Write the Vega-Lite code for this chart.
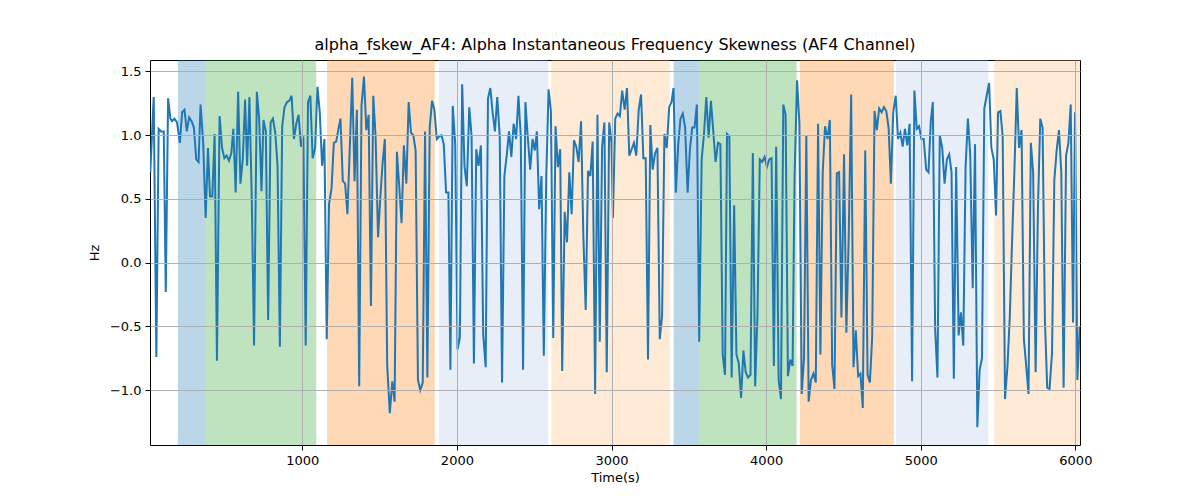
{
  "$schema": "https://vega.github.io/schema/vega-lite/v6.json",
  "autosize": "none",
  "width": 930,
  "height": 385,
  "padding": {"left": 150, "top": 60, "right": 120, "bottom": 55},
  "background": "white",
  "config": {"font": "DejaVu Sans", "view": {"stroke": "black", "strokeWidth": 1}},
  "title": {"text": "alpha_fskew_AF4: Alpha Instantaneous Frequency Skewness (AF4 Channel)", "fontSize": 16, "fontWeight": "normal", "color": "black", "offset": 7},
  "datasets": {
    "bands": [
      {"start": 195, "end": 370, "kind": "b1"},
      {"start": 370, "end": 1090, "kind": "g"},
      {"start": 1160, "end": 1857, "kind": "o"},
      {"start": 1883, "end": 2590, "kind": "lb"},
      {"start": 2610, "end": 3377, "kind": "lo"},
      {"start": 3402, "end": 3565, "kind": "b1"},
      {"start": 3565, "end": 4197, "kind": "g"},
      {"start": 4218, "end": 4826, "kind": "o"},
      {"start": 4840, "end": 5437, "kind": "lb"},
      {"start": 5475, "end": 6052, "kind": "lo"}
    ],
    "series": [
      {"t":17,"v":0.71},{"t":39,"v":1.30},{"t":56,"v":-0.74},{"t":71,"v":1.05},{"t":87,"v":1.03},{"t":104,"v":1.03},{"t":117,"v":-0.23},{"t":132,"v":1.29},{"t":147,"v":1.13},{"t":158,"v":1.11},{"t":173,"v":1.13},{"t":190,"v":1.10},{"t":208,"v":0.94},{"t":223,"v":1.18},{"t":238,"v":1.20},{"t":253,"v":1.03},{"t":268,"v":1.14},{"t":284,"v":1.11},{"t":299,"v":1.06},{"t":314,"v":0.81},{"t":329,"v":0.79},{"t":342,"v":1.24},{"t":359,"v":0.94},{"t":375,"v":0.35},{"t":390,"v":0.90},{"t":403,"v":0.52},{"t":418,"v":0.52},{"t":433,"v":1.01},{"t":448,"v":-0.77},{"t":465,"v":1.15},{"t":481,"v":0.90},{"t":496,"v":0.82},{"t":511,"v":0.84},{"t":526,"v":0.80},{"t":541,"v":0.86},{"t":554,"v":1.05},{"t":569,"v":0.55},{"t":585,"v":1.34},{"t":600,"v":0.62},{"t":615,"v":0.81},{"t":630,"v":1.28},{"t":643,"v":0.76},{"t":658,"v":1.30},{"t":673,"v":0.52},{"t":688,"v":-0.65},{"t":706,"v":1.34},{"t":721,"v":1.13},{"t":736,"v":0.56},{"t":749,"v":1.12},{"t":764,"v":1.03},{"t":779,"v":-0.45},{"t":795,"v":1.10},{"t":810,"v":1.13},{"t":825,"v":1.02},{"t":840,"v":0.76},{"t":855,"v":-0.66},{"t":870,"v":1.07},{"t":885,"v":1.22},{"t":901,"v":1.26},{"t":916,"v":1.27},{"t":931,"v":1.31},{"t":946,"v":0.97},{"t":961,"v":1.09},{"t":976,"v":1.16},{"t":992,"v":0.91},{"t":1007,"v":0.99},{"t":1022,"v":-0.65},{"t":1037,"v":1.26},{"t":1052,"v":1.31},{"t":1067,"v":0.82},{"t":1083,"v":0.90},{"t":1098,"v":1.38},{"t":1113,"v":1.18},{"t":1128,"v":0.76},{"t":1143,"v":0.97},{"t":1158,"v":-0.60},{"t":1173,"v":0.46},{"t":1189,"v":0.58},{"t":1204,"v":0.94},{"t":1219,"v":0.95},{"t":1234,"v":1.05},{"t":1247,"v":1.13},{"t":1262,"v":0.64},{"t":1277,"v":0.62},{"t":1292,"v":0.38},{"t":1308,"v":0.93},{"t":1323,"v":1.45},{"t":1338,"v":0.64},{"t":1353,"v":1.20},{"t":1368,"v":-0.97},{"t":1383,"v":1.23},{"t":1399,"v":1.46},{"t":1414,"v":1.04},{"t":1429,"v":1.16},{"t":1444,"v":-0.34},{"t":1459,"v":1.31},{"t":1474,"v":0.99},{"t":1490,"v":0.20},{"t":1505,"v":0.52},{"t":1520,"v":0.79},{"t":1534,"v":0.97},{"t":1549,"v":-0.80},{"t":1566,"v":-1.18},{"t":1582,"v":-0.93},{"t":1597,"v":-1.09},{"t":1612,"v":0.87},{"t":1627,"v":0.60},{"t":1642,"v":0.31},{"t":1657,"v":0.92},{"t":1673,"v":0.62},{"t":1688,"v":1.26},{"t":1703,"v":1.02},{"t":1718,"v":1.00},{"t":1733,"v":0.88},{"t":1748,"v":-0.92},{"t":1763,"v":-1.00},{"t":1779,"v":-0.94},{"t":1794,"v":1.03},{"t":1809,"v":-0.90},{"t":1824,"v":1.06},{"t":1839,"v":1.27},{"t":1854,"v":1.20},{"t":1870,"v":0.97},{"t":1885,"v":0.99},{"t":1900,"v":1.00},{"t":1915,"v":0.93},{"t":1930,"v":0.55},{"t":1945,"v":0.55},{"t":1958,"v":-0.84},{"t":1973,"v":1.23},{"t":1989,"v":0.93},{"t":2004,"v":-0.68},{"t":2019,"v":-0.59},{"t":2034,"v":1.40},{"t":2049,"v":0.76},{"t":2064,"v":0.60},{"t":2080,"v":1.22},{"t":2095,"v":0.99},{"t":2110,"v":-0.79},{"t":2125,"v":0.89},{"t":2140,"v":0.76},{"t":2155,"v":0.92},{"t":2170,"v":-0.56},{"t":2186,"v":-0.82},{"t":2201,"v":1.29},{"t":2216,"v":1.37},{"t":2231,"v":1.18},{"t":2246,"v":1.03},{"t":2261,"v":1.30},{"t":2277,"v":0.99},{"t":2292,"v":-0.94},{"t":2307,"v":0.68},{"t":2322,"v":0.84},{"t":2337,"v":1.03},{"t":2352,"v":0.83},{"t":2367,"v":1.09},{"t":2383,"v":0.97},{"t":2398,"v":1.31},{"t":2413,"v":0.99},{"t":2428,"v":-0.84},{"t":2443,"v":1.26},{"t":2458,"v":0.99},{"t":2474,"v":0.73},{"t":2489,"v":0.97},{"t":2504,"v":0.88},{"t":2517,"v":1.03},{"t":2532,"v":0.42},{"t":2547,"v":0.68},{"t":2562,"v":-0.73},{"t":2578,"v":0.68},{"t":2593,"v":1.36},{"t":2608,"v":1.19},{"t":2623,"v":-0.59},{"t":2638,"v":1.07},{"t":2653,"v":0.75},{"t":2668,"v":0.89},{"t":2681,"v":-0.85},{"t":2697,"v":0.40},{"t":2712,"v":0.16},{"t":2727,"v":0.71},{"t":2742,"v":0.38},{"t":2757,"v":0.96},{"t":2772,"v":0.91},{"t":2787,"v":0.79},{"t":2803,"v":1.11},{"t":2818,"v":0.20},{"t":2833,"v":-0.37},{"t":2848,"v":0.72},{"t":2863,"v":0.68},{"t":2878,"v":0.95},{"t":2894,"v":-1.03},{"t":2909,"v":1.16},{"t":2924,"v":-0.62},{"t":2939,"v":0.91},{"t":2954,"v":1.10},{"t":2969,"v":-0.86},{"t":2985,"v":1.10},{"t":3000,"v":0.94},{"t":3009,"v":0.35},{"t":3024,"v":1.13},{"t":3039,"v":1.17},{"t":3054,"v":1.15},{"t":3069,"v":1.35},{"t":3085,"v":1.20},{"t":3100,"v":1.37},{"t":3115,"v":0.84},{"t":3130,"v":0.89},{"t":3145,"v":0.94},{"t":3160,"v":0.84},{"t":3176,"v":1.20},{"t":3191,"v":1.32},{"t":3206,"v":0.82},{"t":3221,"v":0.82},{"t":3236,"v":-0.76},{"t":3251,"v":1.08},{"t":3266,"v":0.73},{"t":3282,"v":0.86},{"t":3297,"v":0.90},{"t":3312,"v":-0.60},{"t":3327,"v":-0.42},{"t":3342,"v":1.01},{"t":3357,"v":0.90},{"t":3373,"v":1.22},{"t":3388,"v":1.26},{"t":3401,"v":1.37},{"t":3416,"v":0.55},{"t":3431,"v":0.92},{"t":3446,"v":1.13},{"t":3461,"v":1.17},{"t":3476,"v":1.06},{"t":3492,"v":0.55},{"t":3507,"v":0.89},{"t":3522,"v":1.06},{"t":3537,"v":1.06},{"t":3552,"v":1.24},{"t":3567,"v":-0.62},{"t":3583,"v":0.81},{"t":3598,"v":1.01},{"t":3613,"v":1.30},{"t":3628,"v":0.98},{"t":3643,"v":1.27},{"t":3658,"v":1.03},{"t":3673,"v":0.79},{"t":3689,"v":0.94},{"t":3704,"v":0.93},{"t":3719,"v":-0.72},{"t":3734,"v":-0.88},{"t":3747,"v":1.01},{"t":3762,"v":0.99},{"t":3777,"v":-0.90},{"t":3793,"v":0.45},{"t":3808,"v":-0.72},{"t":3823,"v":-0.79},{"t":3838,"v":-1.06},{"t":3853,"v":-0.69},{"t":3868,"v":-0.86},{"t":3883,"v":-0.90},{"t":3899,"v":-0.88},{"t":3914,"v":0.86},{"t":3929,"v":-0.97},{"t":3944,"v":-0.41},{"t":3959,"v":0.81},{"t":3974,"v":0.79},{"t":3990,"v":0.83},{"t":4005,"v":0.75},{"t":4020,"v":0.81},{"t":4035,"v":0.82},{"t":4050,"v":-0.81},{"t":4065,"v":0.91},{"t":4081,"v":-0.92},{"t":4096,"v":-1.07},{"t":4111,"v":1.24},{"t":4126,"v":1.16},{"t":4141,"v":-0.89},{"t":4156,"v":-0.76},{"t":4171,"v":-0.81},{"t":4184,"v":0.68},{"t":4200,"v":1.43},{"t":4215,"v":1.10},{"t":4230,"v":-1.03},{"t":4245,"v":-0.75},{"t":4260,"v":1.00},{"t":4275,"v":-1.09},{"t":4290,"v":-0.92},{"t":4306,"v":-0.87},{"t":4321,"v":-0.94},{"t":4336,"v":1.09},{"t":4351,"v":-0.72},{"t":4366,"v":0.71},{"t":4381,"v":1.07},{"t":4397,"v":0.97},{"t":4412,"v":1.12},{"t":4427,"v":-0.80},{"t":4442,"v":-0.99},{"t":4457,"v":0.70},{"t":4472,"v":0.71},{"t":4487,"v":-0.43},{"t":4504,"v":0.85},{"t":4519,"v":-0.55},{"t":4534,"v":0.20},{"t":4550,"v":1.32},{"t":4565,"v":-0.82},{"t":4580,"v":-0.53},{"t":4595,"v":-0.89},{"t":4610,"v":-0.87},{"t":4625,"v":-1.14},{"t":4641,"v":0.88},{"t":4656,"v":-0.88},{"t":4671,"v":-0.94},{"t":4686,"v":-0.58},{"t":4701,"v":1.19},{"t":4716,"v":1.04},{"t":4731,"v":1.21},{"t":4747,"v":1.18},{"t":4762,"v":1.22},{"t":4777,"v":1.19},{"t":4792,"v":1.06},{"t":4807,"v":0.62},{"t":4822,"v":1.18},{"t":4838,"v":1.31},{"t":4853,"v":0.97},{"t":4868,"v":1.02},{"t":4883,"v":0.91},{"t":4898,"v":1.05},{"t":4913,"v":0.92},{"t":4928,"v":1.09},{"t":4944,"v":-0.93},{"t":4959,"v":1.35},{"t":4974,"v":1.05},{"t":4989,"v":1.07},{"t":5004,"v":0.97},{"t":5019,"v":0.97},{"t":5035,"v":0.73},{"t":5050,"v":0.71},{"t":5065,"v":1.11},{"t":5078,"v":1.26},{"t":5093,"v":-0.52},{"t":5108,"v":-0.90},{"t":5123,"v":1.00},{"t":5139,"v":0.90},{"t":5154,"v":0.62},{"t":5169,"v":0.81},{"t":5184,"v":0.85},{"t":5199,"v":0.71},{"t":5214,"v":-0.91},{"t":5229,"v":0.75},{"t":5245,"v":-0.57},{"t":5260,"v":-0.39},{"t":5275,"v":-0.65},{"t":5290,"v":0.75},{"t":5305,"v":1.13},{"t":5320,"v":0.85},{"t":5336,"v":-0.20},{"t":5351,"v":0.93},{"t":5366,"v":-1.29},{"t":5381,"v":-0.84},{"t":5396,"v":-0.75},{"t":5411,"v":1.21},{"t":5442,"v":1.41},{"t":5457,"v":0.90},{"t":5472,"v":0.81},{"t":5487,"v":0.37},{"t":5500,"v":1.18},{"t":5515,"v":1.19},{"t":5530,"v":0.99},{"t":5545,"v":-1.07},{"t":5561,"v":-0.81},{"t":5576,"v":-0.42},{"t":5591,"v":0.18},{"t":5606,"v":0.73},{"t":5621,"v":1.37},{"t":5636,"v":0.90},{"t":5652,"v":1.04},{"t":5667,"v":-0.60},{"t":5682,"v":-0.81},{"t":5697,"v":-1.03},{"t":5712,"v":0.94},{"t":5727,"v":0.71},{"t":5743,"v":-0.86},{"t":5758,"v":0.43},{"t":5773,"v":1.13},{"t":5788,"v":1.06},{"t":5803,"v":-0.45},{"t":5818,"v":-0.98},{"t":5833,"v":-0.99},{"t":5849,"v":-0.71},{"t":5864,"v":0.65},{"t":5879,"v":0.88},{"t":5894,"v":1.04},{"t":5909,"v":0.71},{"t":5924,"v":-0.98},{"t":5940,"v":0.84},{"t":5955,"v":0.94},{"t":5970,"v":1.24},{"t":5985,"v":-0.47},{"t":5998,"v":1.18},{"t":6013,"v":-0.92},{"t":6028,"v":-0.50}
    ]
  },
  "layer": [
    {
      "data": {"name": "bands"},
      "mark": {"type": "rect", "clip": true},
      "encoding": {
        "x": {"field": "start", "type": "quantitative", "scale": {"domain": [15, 6030], "nice": false, "zero": false},
          "axis": {"title": "Time(s)", "values": [1000, 2000, 3000, 4000, 5000, 6000], "format": "d", "grid": true, "gridColor": "#b0b0b0", "gridWidth": 1, "zindex": 1, "labelFontSize": 13, "titleFontSize": 13, "titleFontWeight": "normal", "labelColor": "black", "titleColor": "black", "tickColor": "black", "domain": false, "labelPadding": 4, "titlePadding": 4}},
        "x2": {"field": "end"},
        "y": {"value": 0},
        "y2": {"value": 385},
        "color": {"field": "kind", "type": "nominal", "legend": null,
          "scale": {"domain": ["b1", "g", "o", "lb", "lo"], "range": ["#1f77b4", "#2ca02c", "#ff7f0e", "#aec7e8", "#ffbb78"]}},
        "opacity": {"field": "kind", "type": "nominal", "legend": null,
          "scale": {"domain": ["b1", "g", "o", "lb", "lo"], "range": [0.3, 0.3, 0.3, 0.3, 0.3]}}
      }
    },
    {
      "data": {"name": "series"},
      "mark": {"type": "line", "color": "#1f77b4", "strokeWidth": 2, "clip": true, "zindex": 2},
      "encoding": {
        "x": {"field": "t", "type": "quantitative"},
        "y": {"field": "v", "type": "quantitative", "scale": {"domain": [-1.43, 1.59], "nice": false, "zero": false},
          "axis": {"title": "Hz", "values": [-1.0, -0.5, 0.0, 0.5, 1.0, 1.5], "format": ".1f", "grid": true, "gridColor": "#b0b0b0", "gridWidth": 1, "zindex": 1, "labelFontSize": 13, "titleFontSize": 13, "titleFontWeight": "normal", "labelColor": "black", "titleColor": "black", "tickColor": "black", "domain": false, "labelPadding": 4, "titlePadding": 8}}
      }
    }
  ]
}
